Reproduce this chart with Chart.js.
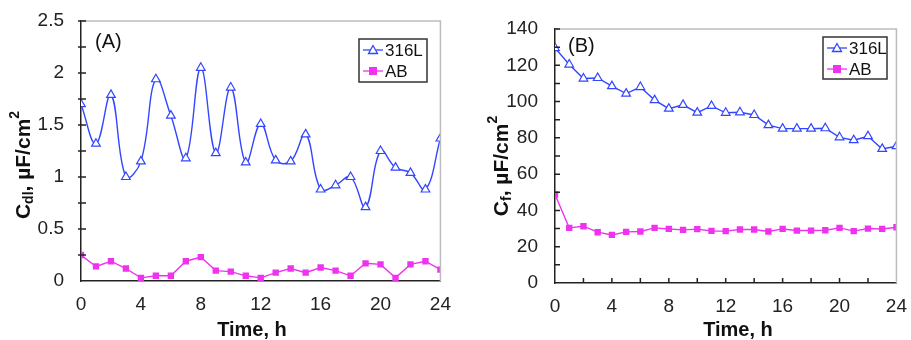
<!DOCTYPE html>
<html>
<head>
<meta charset="utf-8">
<script src="https://cdn.jsdelivr.net/npm/chart.js@4.4.1/dist/chart.umd.min.js"></script>
<style>
  body { margin: 0; background: #fff; }
  .wrap { position: absolute; top: 0; height: 340px; }
  #wa { left: 0; width: 455px; }
  #wb { left: 460px; width: 451px; }
</style>
</head>
<body>
<div class="wrap" id="wa"><canvas id="ca"></canvas></div>
<div class="wrap" id="wb"><canvas id="cb"></canvas></div>
<script>
const hours = [0, 1, 2, 3, 4, 5, 6, 7, 8, 9, 10, 11, 12, 13, 14, 15, 16, 17, 18, 19, 20, 21, 22, 23, 24];

// panel A: Cdl
const cdl316L = [1.70, 1.32, 1.79, 1.00, 1.15, 1.94, 1.59, 1.18, 2.05, 1.23, 1.86, 1.14, 1.51, 1.16, 1.15, 1.41, 0.88, 0.92, 1.00, 0.71, 1.25, 1.09, 1.04, 0.88, 1.37];
const cdlAB = [0.25, 0.14, 0.19, 0.12, 0.03, 0.05, 0.05, 0.19, 0.23, 0.10, 0.09, 0.05, 0.03, 0.08, 0.12, 0.08, 0.13, 0.10, 0.05, 0.17, 0.16, 0.03, 0.16, 0.19, 0.11];

// panel B: Cf
const cf316L = [129.5, 120.4, 112.7, 113, 108.5, 104.4, 108, 100.8, 96.1, 98.2, 93.9, 97.6, 93.8, 94.1, 92.6, 87.0, 85.1, 85.1, 85.1, 85.3, 80.3, 78.7, 80.9, 73.9, 75.4];
const cfAB = [48.8, 30.4, 31.3, 28.0, 26.5, 28.2, 28.4, 30.4, 29.8, 29.3, 29.7, 28.7, 28.6, 29.5, 29.5, 28.4, 29.8, 28.9, 28.9, 29.1, 30.4, 28.6, 30.0, 29.8, 30.7];

const seriesNames = ["316L", "AB"];
const BLUE = "#3346ff";
const MAGENTA = "#ee33ee";
const FONT = "'Liberation Sans', Arial, sans-serif";

const pts = (vals) => vals.map((v, i) => ({ x: hours[i], y: v }));

// extra drawing: frame, small ticks, titles, panel tag, legend box
const decor = {
  id: "decor",
  afterDraw(chart, args, o) {
    const ctx = chart.ctx;
    const a = chart.chartArea;
    const xs = chart.scales.x, ys = chart.scales.y;
    ctx.save();
    // grey top/right frame
    ctx.strokeStyle = "#bdbdbd";
    ctx.lineWidth = 1.5;
    ctx.beginPath();
    ctx.moveTo(a.left, a.top); ctx.lineTo(a.right, a.top); ctx.lineTo(a.right, a.bottom);
    ctx.stroke();
    // axis ticks
    ctx.strokeStyle = "#222";
    ctx.lineWidth = 1.5;
    ctx.beginPath();
    if (o.yStep) {
      for (let v = ys.min + o.yStep; v <= ys.max + 1e-9; v += o.yStep) {
        const py = ys.getPixelForValue(v);
        ctx.moveTo(a.left - o.out, py); ctx.lineTo(a.left + 5, py);
      }
    }
    if (o.xStep) {
      for (let v = xs.min + o.xStep; v < xs.max - 1e-9; v += o.xStep) {
        const px = xs.getPixelForValue(v);
        ctx.moveTo(px, a.bottom); ctx.lineTo(px, a.bottom - 5);
      }
    }
    ctx.stroke();

    ctx.fillStyle = "#111";
    // x title
    ctx.font = "bold 20px " + FONT;
    ctx.textAlign = "center";
    ctx.textBaseline = "middle";
    ctx.fillText("Time, h", o.xTitleX, 330);

    // y title with sub/superscript
    ctx.save();
    ctx.translate(o.yTitleX, o.yTitleY);
    ctx.rotate(-Math.PI / 2);
    const parts = [
      ["C", 21, 0], [o.sub, 14, 5], [", \u00b5F/cm", 21, 0], ["2", 14, -9]
    ];
    let total = 0;
    parts.forEach(([t, s]) => { ctx.font = "bold " + s + "px " + FONT; total += ctx.measureText(t).width; });
    let cx = -total / 2;
    ctx.textAlign = "left";
    ctx.textBaseline = "middle";
    parts.forEach(([t, s, dy]) => {
      ctx.font = "bold " + s + "px " + FONT;
      ctx.fillText(t, cx, dy);
      cx += ctx.measureText(t).width;
    });
    ctx.restore();

    // panel tag
    ctx.font = "20px " + FONT;
    ctx.textAlign = "left";
    ctx.fillText(o.tag, a.left + o.tagDx, o.tagY);

    // legend box
    const L = o.legend;
    ctx.fillStyle = "#fff";
    ctx.fillRect(L.x, L.y, L.w, L.h);
    ctx.strokeStyle = "#333";
    ctx.lineWidth = 1.5;
    ctx.strokeRect(L.x, L.y, L.w, L.h);
    chart.data.datasets.forEach((ds, i) => {
      const ly = L.y + 11 + i * 21;
      const lx = L.x + 4;
      ctx.strokeStyle = ds.borderColor;
      ctx.lineWidth = 1.3;
      ctx.beginPath(); ctx.moveTo(lx, ly); ctx.lineTo(lx + 20, ly); ctx.stroke();
      if (ds.pointStyle === "triangle") {
        ctx.fillStyle = "#fff";
        ctx.beginPath();
        ctx.moveTo(lx + 10, ly - 4.5); ctx.lineTo(lx + 14.5, ly + 3.5); ctx.lineTo(lx + 5.5, ly + 3.5); ctx.closePath();
        ctx.fill(); ctx.stroke();
      } else {
        ctx.fillStyle = ds.backgroundColor;
        ctx.fillRect(lx + 6, ly - 4, 8, 8);
      }
      ctx.fillStyle = "#111";
      ctx.font = "17px " + FONT;
      ctx.textBaseline = "middle";
      ctx.fillText(ds.label, lx + 22, ly + 1);
    });
    ctx.restore();
  }
};

function makeChart(el, s1, s2, cfg) {
  return new Chart(el, {
    type: "line",
    data: {
      datasets: [
        {
          label: seriesNames[0],
          data: pts(s1),
          borderColor: BLUE,
          backgroundColor: "#fff",
          borderWidth: 1.4,
          pointStyle: "triangle",
          pointRadius: 5,
          pointBorderWidth: 1.2,
          tension: cfg.tension,
        },
        {
          label: seriesNames[1],
          data: pts(s2),
          borderColor: MAGENTA,
          backgroundColor: MAGENTA,
          borderWidth: 1.4,
          pointStyle: "rect",
          pointRadius: 4.5,
          pointBorderWidth: 0,
          tension: 0,
        },
      ],
    },
    options: {
      responsive: true,
      maintainAspectRatio: false,
      animation: false,
      layout: { padding: { left: 0, top: cfg.top, right: cfg.right, bottom: 0 } },
      plugins: {
        legend: { display: false },
        tooltip: { enabled: false },
        decor: cfg.decor,
      },
      scales: {
        x: {
          type: "linear",
          min: 0,
          max: 24,
          afterFit: (s) => { s.height = cfg.xHeight; },
          grid: { display: false },
          border: { color: "#222", width: 1.5 },
          ticks: { stepSize: 4, color: "#222", font: { size: 19, family: FONT }, padding: 4 },
        },
        y: {
          min: 0,
          max: cfg.yMax,
          afterFit: (s) => { s.width = cfg.yWidth; },
          grid: { display: false },
          border: { color: "#222", width: 1.5 },
          ticks: {
            stepSize: cfg.yTick, color: "#222", font: { size: 19, family: FONT }, padding: 9,
            callback: (v) => String(+v.toFixed(2)),
          },
        },
      },
    },
    plugins: [decor],
  });
}

makeChart(document.getElementById("ca"), cdl316L, cdlAB, {
  tension: 0.4, top: 21, right: 13, xHeight: 59, yWidth: 81, yMax: 2.5, yTick: 0.5,
  decor: {
    yStep: 0.25, out: 3, xStep: null, xTitleX: 252, yTitleX: 24, yTitleY: 165, sub: "dl",
    tag: "(A)", tagDx: 14, tagY: 42,
    legend: { x: 359, y: 39, w: 68, h: 43 },
  },
});

makeChart(document.getElementById("cb"), cf316L, cfAB, {
  tension: 0, top: 29, right: 14, xHeight: 57, yWidth: 95, yMax: 140, yTick: 20,
  decor: {
    yStep: 10, out: 0, xStep: 2, xTitleX: 278, yTitleX: 42, yTitleY: 166, sub: "f",
    tag: "(B)", tagDx: 13, tagY: 46,
    legend: { x: 363, y: 37, w: 64, h: 42 },
  },
});
</script>
</body>
</html>
